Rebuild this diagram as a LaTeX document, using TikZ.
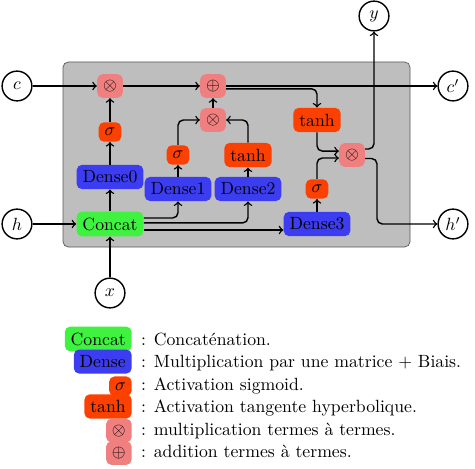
\documentclass[tikz,border=0pt]{standalone}
\usepackage{fontspec}
\definecolor{cgreen}{RGB}{64,242,64}
\definecolor{cblue}{RGB}{60,60,240}
\definecolor{corange}{RGB}{252,64,0}
\definecolor{cpink}{RGB}{240,128,128}
\definecolor{cgray}{RGB}{190,190,190}
\tikzset{
  opnode/.style={rounded corners=3pt, inner sep=0.333em},
  concatbox/.style={opnode, fill=cgreen},
  densebox/.style={opnode, fill=cblue},
  actbox/.style={opnode, fill=corange},
  opbox/.style={opnode, fill=cpink},
  io/.style={circle, draw, thick, minimum size=16.8pt, inner sep=0pt},
  conn/.style={->, thick, rounded corners=3pt},
  graybox/.style={fill=cgray, draw=black!65, rounded corners=3pt}
}
\begin{document}
\begin{tikzpicture}[x=0.565pt, y=-0.565pt]
\useasboundingbox (0,0) rectangle (475,468);
% background box
\draw[graybox] (63,62) rectangle (410,247);

% inputs/outputs
\node[io] (c) at (17,86) {$c$};
\node[io] (h) at (17,224) {$h$};
\node[io] (x) at (110,293) {$x$};
\node[io] (y) at (374,16) {$y$};
\node[io] (cp) at (453,86) {$c'$};
\node[io] (hp) at (453,224) {$h'$};

% cell nodes
\node[opbox] (m1) at (110,86) {$\otimes$};
\node[actbox] (s0) at (110,132) {$\sigma$};
\node[densebox] (d0) at (110,177) {Dense0};
\node[concatbox] (cat) at (110,224) {Concat};
\node[opbox] (add) at (213,86) {$\oplus$};
\node[opbox] (m2) at (213,120) {$\otimes$};
\node[actbox] (s1) at (178,155) {$\sigma$};
\node[actbox] (t1) at (248,155) {tanh};
\node[densebox] (d1) at (178,189) {Dense1};
\node[densebox] (d2) at (248,189) {Dense2};
\node[actbox] (t2) at (317,120) {tanh};
\node[opbox] (m3) at (352,155) {$\otimes$};
\node[actbox] (s3) at (317,189) {$\sigma$};
\node[densebox] (d3) at (317,224) {Dense3};
\coordinate (hturn) at (377,224);

% connectors
\draw[conn] (c) -- (m1);
\draw[conn] (m1) -- (add);
\draw[conn] (add) -- (cp);
\draw[conn] ([yshift=-1.6pt]add.east) -| (t2.north);
\draw[conn] (m2) -- (add);
\draw[conn] (s1) |- (m2);
\draw[conn] (t1) |- (m2);
\draw[conn] (d1) -- (s1);
\draw[conn] (d2) -- (t1);
\draw[conn] (h) -- (cat);
\draw[conn] (x) -- (cat);
\draw[conn] (cat) -- (d0);
\draw[conn] (d0) -- (s0);
\draw[conn] (s0) -- (m1);
\draw[conn] ([yshift=3.4pt]cat.east) -| (d1.south);
\draw[conn] ([yshift=0.6pt]cat.east) -| (d2.south);
\draw[conn] ([yshift=-3.4pt]cat.east) -- ([yshift=-3.4pt]d3.west);
\draw[conn] (d3) -- (s3);
\draw[conn] (t2) |- ([yshift=2.2pt]m3.west);
\draw[conn] (s3) |- ([yshift=-1.7pt]m3.west);
\draw[conn] ([yshift=3.4pt]m3.east) -| (y.south);
\draw[conn] ([yshift=-2pt]m3.east) -| (hturn) -- (hp.west);

% legend
\node[concatbox, anchor=base east] (lcat) at (132,345) {Concat};
\node[anchor=base west] (tcat) at (134.8,345) {: Concaténation.};
\node[densebox, anchor=base east] (lden) at (132,367.5) {Dense};
\node[anchor=base west] (tden) at (134.8,367.5) {: Multiplication par une matrice + Biais.};
\node[actbox, anchor=base east] (lsig) at (132,390) {$\sigma$};
\node[anchor=base west] (tsig) at (134.8,390) {: Activation sigmoid.};
\node[actbox, anchor=base east] (ltanh) at (132,412.5) {tanh};
\node[anchor=base west] (ttanh) at (134.8,412.5) {: Activation tangente hyperbolique.};
\node[opbox, anchor=base east] (lmul) at (132,435) {$\otimes$};
\node[anchor=base west] (tmul) at (134.8,435) {: multiplication termes à termes.};
\node[opbox, anchor=base east] (ladd) at (132,457.5) {$\oplus$};
\node[anchor=base west] (tadd) at (134.8,457.5) {: addition termes à termes.};
\end{tikzpicture}
\end{document}
